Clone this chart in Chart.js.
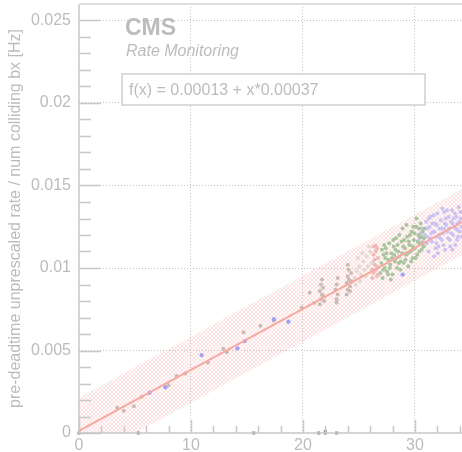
<!DOCTYPE html>
<html>
<head>
<meta charset="utf-8">
<script src="https://cdn.jsdelivr.net/npm/chart.js@4/dist/chart.umd.min.js"></script>
<style>
  html, body { margin: 0; padding: 0; background: #fff; }
  #wrap { width: 462px; height: 452px; position: relative; }
</style>
</head>
<body>
<div id="wrap"><canvas id="rateChart"></canvas></div>
<script>
// axis ticks
const xTickValues = [0, 2, 4, 6, 8, 10, 12, 14, 16, 18, 20, 22, 24, 26, 28, 30, 32, 34];
const xMajor = [0, 10, 20, 30];
const yTickValues = [0, 0.001, 0.002, 0.003, 0.004, 0.005, 0.006, 0.007, 0.008, 0.009, 0.01,
  0.011, 0.012, 0.013, 0.014, 0.015, 0.016, 0.017, 0.018, 0.019, 0.02,
  0.021, 0.022, 0.023, 0.024, 0.025];
const yMajor = [0, 0.005, 0.01, 0.015, 0.02, 0.025];
const yMajorLabels = ['0', '0.005', '0.01', '0.015', '0.02', '0.025'];

// fit  f(x) = 0.00013 + x*0.00037  and its band
const fitX = [0, 35];
const fitY = [0.00013, 0.01308];
const bandUp = [0.00213, 0.01508];
const bandLow = [-0.00187, 0.01108];

// runs at zero rate
const zeroX = [0, 5.3, 15.6, 21.4, 22.0, 22.0, 23.0];
const zeroY = [0, 0, 0, 0, 0, 0.0001, 0];

// isolated blue runs
const blueX = [6.3, 7.7, 10.95, 14.15, 14.8, 17.4, 18.7, 28.9];
const blueY = [0.00244, 0.00277, 0.00472, 0.00513, 0.00557, 0.0069, 0.00674, 0.0096];

// tan runs
const tanX = [3.4, 4.0, 4.9, 5.6, 8.0, 8.7, 9.5, 11.5, 12.9, 13.2, 14.7, 16.2, 17.4, 19.9, 20.6, 21.0,
  21.5, 21.6, 21.7, 21.5, 21.8, 21.6, 21.7, 21.9, 21.8,
  23.0, 23.1, 22.9, 23.0, 23.1, 23.0,
  23.9, 24.0, 24.2, 23.9, 24.1, 24.0, 24.3, 24.1, 24.0, 24.2, 24.3];
const tanY = [0.00153, 0.00133, 0.00162, 0.0022, 0.0029, 0.00345, 0.0036, 0.00426, 0.0051, 0.0049, 0.0061, 0.0065, 0.0068, 0.0076, 0.0085, 0.0079,
  0.0078, 0.0081, 0.0084, 0.0086, 0.0088, 0.0090, 0.0093, 0.0080, 0.0083,
  0.0081, 0.0084, 0.0087, 0.0090, 0.0094, 0.0079,
  0.0084, 0.0087, 0.0089, 0.0091, 0.0093, 0.0095, 0.0097, 0.0099, 0.0102, 0.0086, 0.0092];

// beige cloud
const beigeX = [24.6, 24.8, 25.0, 25.2, 25.4, 25.5, 25.7, 25.8, 26.0, 26.1, 24.7, 25.1, 25.6, 25.9, 25.3, 24.9];
const beigeY = [0.0094, 0.0098, 0.0101, 0.0096, 0.0104, 0.0099, 0.0107, 0.0101, 0.0110, 0.0103, 0.0090, 0.0092, 0.0095, 0.0113, 0.0109, 0.0106];

// pink column
const pinkX = [26.2, 26.3, 26.5, 26.6, 26.2, 26.4, 26.7, 26.3, 26.5, 26.6, 26.5, 26.2, 26.7, 26.4, 26.6, 26.3];
const pinkY = [0.0094, 0.0097, 0.0099, 0.0101, 0.0103, 0.0105, 0.0106, 0.0108, 0.0110, 0.0112, 0.01136, 0.0099, 0.0096, 0.0102, 0.0095, 0.0113];

// green runs
const greenX = [26.9, 27.0, 27.1, 27.2, 27.3, 27.4, 27.5, 27.6, 27.7, 27.8, 27.9, 28.0, 28.1, 28.2, 28.3, 28.4, 28.5, 28.6, 28.7, 28.8,
  28.9, 29.0, 29.1, 29.2, 29.3, 29.4, 29.5, 29.6, 29.7, 29.8, 29.9, 30.0, 30.1, 30.2, 30.3, 30.4, 30.5, 30.6, 30.7, 30.8,
  27.05, 27.35, 27.85, 28.15, 28.45, 28.75, 29.05, 29.35, 29.65, 29.95, 30.25, 30.55, 30.85, 28.05, 29.25, 30.15, 28.6, 27.6, 29.8, 30.4,
  27.15, 27.45, 27.75, 28.25, 28.55, 28.85, 29.15, 29.45, 29.75, 30.05, 30.35, 30.65, 28.35, 29.55, 30.75, 27.25, 28.95, 29.85, 30.45, 27.95];
const greenY = [0.0097, 0.0103, 0.0094, 0.0108, 0.0100, 0.0112, 0.0098, 0.0105, 0.0115, 0.0102, 0.0109, 0.0096, 0.0113, 0.0104, 0.0118, 0.0100, 0.0110, 0.0107, 0.0099, 0.0116,
  0.0124, 0.0103, 0.0112, 0.0108, 0.0119, 0.0101, 0.0114, 0.0110, 0.0122, 0.0106, 0.0117, 0.0112, 0.0125, 0.0108, 0.0120, 0.0115, 0.0127, 0.0111, 0.0122, 0.0118,
  0.0111, 0.0106, 0.0093, 0.0108, 0.0114, 0.0104, 0.0117, 0.0109, 0.0104, 0.0121, 0.0116, 0.0119, 0.0124, 0.0117, 0.0126, 0.0130, 0.0120, 0.0096, 0.0113, 0.0110,
  0.0099, 0.0109, 0.0100, 0.0111, 0.0103, 0.0109, 0.0105, 0.0116, 0.0111, 0.0106, 0.0124, 0.0115, 0.0106, 0.0120, 0.0113, 0.0114, 0.0113, 0.0125, 0.0119, 0.0106];

// lavender runs
const lavX = [30.4, 30.6, 30.8, 31.0, 31.1, 31.2, 31.3, 31.4, 31.5, 31.6, 31.7, 31.8, 31.9, 32.0, 32.1, 32.2, 32.3, 32.4, 32.5, 32.6,
  32.7, 32.8, 32.9, 33.0, 33.1, 33.2, 33.3, 33.4, 33.5, 33.6, 33.7, 33.8, 33.9, 34.0, 34.1,
  31.05, 31.45, 31.85, 32.25, 32.65, 33.05, 33.45, 33.85, 31.25, 32.45, 33.65, 30.9, 32.05, 33.15, 34.15,
  30.5, 30.7, 31.15, 31.35, 31.55, 31.75, 31.95, 32.15, 32.35, 32.55, 32.75, 32.95, 33.25, 33.35, 33.55, 33.75, 33.95, 34.05, 34.18,
  31.65, 32.85, 33.35, 31.9, 32.6, 33.8];
const lavY = [0.0118, 0.0124, 0.0113, 0.0128, 0.0119, 0.0110, 0.0125, 0.0131, 0.0116, 0.0122, 0.0107, 0.0127, 0.0119, 0.0133, 0.0113, 0.0124, 0.0129, 0.0117, 0.0121, 0.0134,
  0.0111, 0.0126, 0.0122, 0.0131, 0.0117, 0.0128, 0.0135, 0.0120, 0.0125, 0.0114, 0.0131, 0.0127, 0.0137, 0.0122, 0.0130,
  0.0115, 0.0121, 0.0112, 0.0118, 0.0127, 0.0124, 0.0130, 0.0119, 0.0130, 0.0136, 0.0124, 0.0120, 0.0109, 0.0113, 0.0125,
  0.0121, 0.0116, 0.0124, 0.0118, 0.0127, 0.0122, 0.0126, 0.0120, 0.0124, 0.0114, 0.0130, 0.0118, 0.0121, 0.0127, 0.0133, 0.0117, 0.0128, 0.0134, 0.0119,
  0.0132, 0.0135, 0.0111, 0.0115, 0.0124, 0.0123];

const FONT = '"Liberation Sans", Arial, Helvetica, sans-serif';
const TEXT = '#bcbcbc';
const AXIS = '#c8c8c8';

function zip(xs, ys) {
    return xs.map((x, i) => ({ x: x, y: ys[i] }));
}
function near(v, list) {
    return list.findIndex(m => Math.abs(m - v) < 1e-9);
}
// no extra room for edge labels
function noPad(s) {
    s.paddingTop = 0; s.paddingBottom = 0; s.paddingLeft = 0; s.paddingRight = 0;
}

// hatch for the band
function hatch() {
    let c = document.createElement('canvas');
    c.width = 4; c.height = 4;
    let g = c.getContext('2d');
    g.fillStyle = 'rgba(244,150,150,0.3)';
    for (let i = 0; i < 4; i++) {
        g.fillRect(i, i, 1, 1);
        g.fillRect(i, 3 - i, 1, 1);
    }
    return g.createPattern(c, 'repeat');
}

// inward ticks, frame and labels
const frame = {
    id: 'frame',
    afterDraw(chart) {
        let ctx = chart.ctx, a = chart.chartArea;
        let xs = chart.scales.x, ys = chart.scales.y;
        ctx.save();
        ctx.strokeStyle = AXIS;
        ctx.lineWidth = 1.5;
        ctx.beginPath();
        ys.ticks.forEach(t => {
            let py = Math.round(ys.getPixelForValue(t.value)) + 0.5;
            let len = near(t.value, yMajor) >= 0 ? 22 : 12;
            ctx.moveTo(a.left, py); ctx.lineTo(a.left + len, py);
        });
        xs.ticks.forEach(t => {
            let px = Math.round(xs.getPixelForValue(t.value)) + 0.5;
            let len = near(t.value, xMajor) >= 0 ? 13 : 7;
            ctx.moveTo(px, a.bottom); ctx.lineTo(px, a.bottom - len);
        });
        ctx.stroke();
        // axes
        ctx.beginPath();
        ctx.moveTo(a.left, a.top); ctx.lineTo(a.left, a.bottom); ctx.lineTo(a.right, a.bottom);
        ctx.stroke();
        ctx.strokeStyle = '#dedede';
        ctx.lineWidth = 2;
        ctx.beginPath();
        ctx.moveTo(a.left, a.top); ctx.lineTo(a.right, a.top);
        ctx.stroke();

        // CMS label
        ctx.fillStyle = TEXT;
        ctx.textBaseline = 'alphabetic';
        ctx.textAlign = 'left';
        ctx.font = 'bold 23px ' + FONT;
        ctx.fillText('CMS', 125, 35);
        ctx.font = 'italic 16px ' + FONT;
        ctx.fillText('Rate Monitoring', 126, 56);
        // fit box
        ctx.fillStyle = '#fff';
        ctx.fillRect(122, 74, 303, 31);
        ctx.strokeStyle = '#cfcfcf';
        ctx.lineWidth = 1.5;
        ctx.strokeRect(122, 74, 303, 31);
        ctx.fillStyle = TEXT;
        ctx.font = '16px ' + FONT;
        ctx.fillText('f(x) = 0.00013 + x*0.00037', 129, 95);
        ctx.restore();
    }
};

const ctx = document.getElementById('rateChart').getContext('2d');
new Chart(ctx, {
    type: 'scatter',
    data: {
        datasets: [
            { data: zip(fitX, fitY), showLine: true, borderColor: '#f5a9a1', borderWidth: 2, pointRadius: 0, order: 0 },
            { data: zip(zeroX, zeroY), pointStyle: 'rect', pointRadius: 2.2, backgroundColor: '#8f8f8f', borderWidth: 0, clip: false, order: 1 },
            { data: zip(blueX, blueY), pointRadius: 2.2, backgroundColor: '#a3a3f6', borderWidth: 0, order: 1 },
            { data: zip(tanX, tanY), pointRadius: 2, backgroundColor: '#cdbab2', borderWidth: 0, order: 1 },
            { data: zip(beigeX, beigeY), pointRadius: 2, backgroundColor: '#e4dad1', borderWidth: 0, order: 1 },
            { data: zip(pinkX, pinkY), pointRadius: 2, backgroundColor: '#efbaba', borderWidth: 0, order: 1 },
            { data: zip(greenX, greenY), pointRadius: 2, backgroundColor: '#aac69e', borderWidth: 0, order: 1 },
            { data: zip(lavX, lavY), pointRadius: 2, backgroundColor: '#cbc3f2', borderWidth: 0, order: 1 },
            { data: zip(fitX, bandUp), showLine: true, borderWidth: 0, pointRadius: 0, fill: '+1', backgroundColor: hatch(), order: 2 },
            { data: zip(fitX, bandLow), showLine: true, borderWidth: 0, pointRadius: 0, order: 2 }
        ]
    },
    options: {
        responsive: true,
        maintainAspectRatio: false,
        animation: false,
        events: [],
        layout: { autoPadding: false, padding: { top: 4, left: 0, right: 0, bottom: 0 } },
        plugins: { legend: { display: false }, tooltip: { enabled: false } },
        scales: {
            x: {
                type: 'linear', min: 0, max: 34.2,
                afterBuildTicks: s => { s.ticks = xTickValues.map(v => ({ value: v })); },
                afterFit: s => { s.height = 19; noPad(s); },
                grid: {
                    drawTicks: false, lineWidth: 1,
                    color: c => (c.tick && c.tick.value > 0 && near(c.tick.value, xMajor) >= 0) ? '#c4c4c4' : 'rgba(0,0,0,0)'
                },
                border: { display: false, dash: [1, 2] },
                ticks: {
                    autoSkip: false, maxRotation: 0, padding: 3, color: TEXT,
                    font: { family: FONT, size: 16 },
                    callback: v => near(v, xMajor) >= 0 ? String(v) : ''
                }
            },
            y: {
                type: 'linear', min: 0, max: 0.026,
                afterBuildTicks: s => { s.ticks = yTickValues.map(v => ({ value: v })); },
                afterFit: s => { s.width = 79; noPad(s); },
                grid: {
                    drawTicks: false, lineWidth: 1,
                    color: c => (c.tick && c.tick.value > 0 && near(c.tick.value, yMajor) >= 0) ? '#c4c4c4' : 'rgba(0,0,0,0)'
                },
                border: { display: false, dash: [1, 2] },
                title: {
                    display: true,
                    text: 'pre-deadtime unprescaled rate / num colliding bx [Hz]',
                    color: TEXT, font: { family: FONT, size: 16 },
                    padding: { top: 6, bottom: 0 }
                },
                ticks: {
                    autoSkip: false, padding: 8, color: TEXT,
                    font: { family: FONT, size: 16 },
                    callback: v => { let i = near(v, yMajor); return i >= 0 ? yMajorLabels[i] : ''; }
                }
            }
        }
    },
    plugins: [frame]
});
</script>
</body>
</html>
